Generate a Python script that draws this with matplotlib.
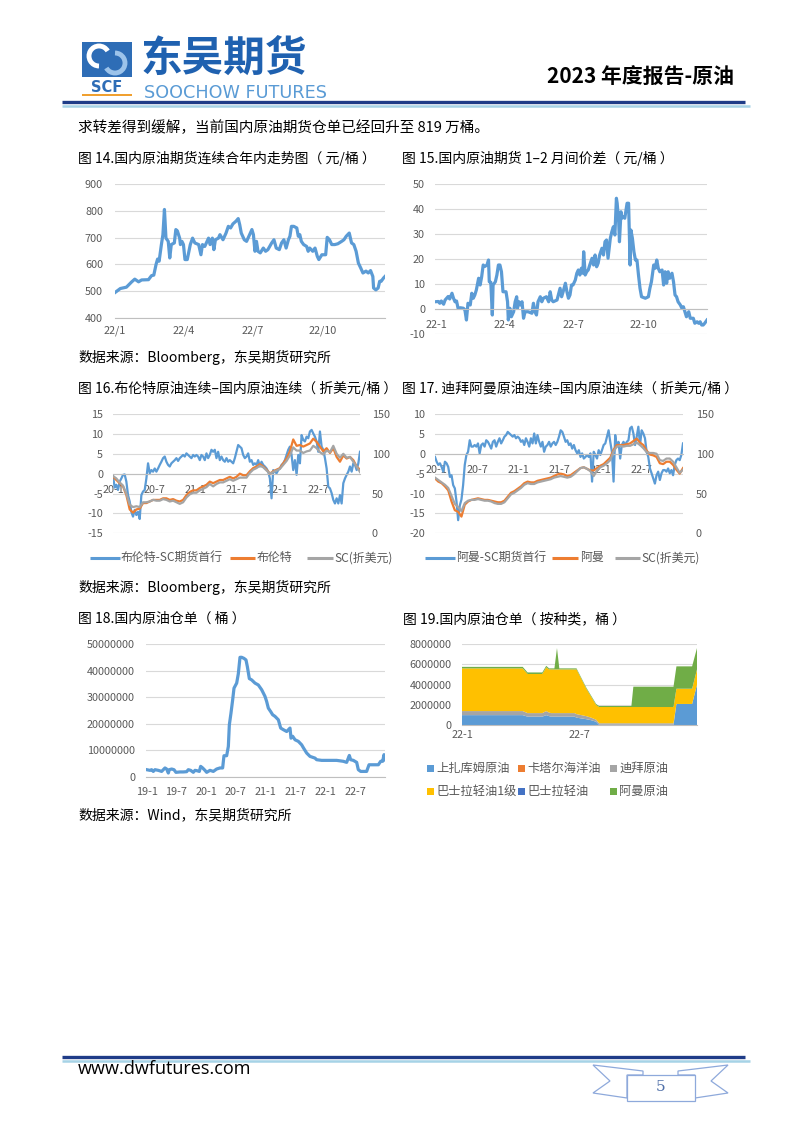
import numpy as np
import matplotlib
matplotlib.use('Agg')
import matplotlib.pyplot as plt
from matplotlib.patches import Rectangle, Polygon, Arc

plt.rcParams['font.family'] = ['Noto Sans CJK SC', 'DejaVu Sans']
plt.rcParams['axes.unicode_minus'] = False

# ---------------- data ----------------
# Fig 14: SC continuous price 2022 (day offset from 2022-01-01, CNY/bbl)
days14 = [0,7,15,22,26,31,35,44,48,51,54,56,58,61,63,65,67,70,72,74,78,80,82,85,86,88,90,92,95,99,
          102,105,110,113,115,118,123,125,128,130,132,136,138,142,146,149,152,155,159,162,164,166,170,173,
          177,180,182,184,186,188,191,195,198,201,206,209,212,216,219,222,225,228,230,232,235,239,241,243,
          245,248,252,254,256,260,263,266,268,272,275,277,279,282,285,289,293,298,301,304,308,311,314,317,
          320,323,326,330,333,336,339,340,343,346,348,350,353,355]
price14 = [495,510,515,535,545,535,542,543,558,560,600,620,612,674,711,805,698,686,624,674,680,730,725,698,
           674,686,674,618,618,674,698,680,674,636,674,667,698,674,698,655,692,698,711,692,717,742,736,751,
           761,771,748,717,692,686,711,730,711,649,686,649,643,661,649,655,680,692,661,655,680,692,661,692,
           705,742,742,736,705,711,686,674,667,649,661,649,661,630,618,636,636,636,701,692,674,674,677,686,
           692,705,717,680,674,649,605,587,568,575,568,577,555,512,505,512,537,537,549,555]
ticks14 = [0, 90, 181, 273]
labels14 = ['22/1', '22/4', '22/7', '22/10']

# Fig 15: 1-2 month spread (CNY/bbl)
days15 = [-1,3,5,7,10,12,14,16,18,21,23,25,27,29,32,36,38,40,42,45,47,49,51,53,56,58,60,62,64,67,
          69,70,72,74,75,78,80,82,84,86,88,89,92,94,95,97,99,102,104,106,107,109,111,113,115,117,121,126,128,130,
          132,134,137,139,141,145,148,150,152,154,159,163,165,167,170,172,174,176,178,180,183,185,187,189,191,193,
          194,196,198,200,202,205,207,209,211,213,215,218,220,222,224,226,229,231,233,235,237,238,240,241,243,244,
          246,248,251,253,255,256,258,260,262,264,266,268,270,275,279,281,283,286,288,290,292,294,297,299,301,303,
          305,307,310,312,314,316,318,321,323,325,327,329,332,334,338,340,343,345,347,349,351,353,356]
spread15 = [2.9,3,2.3,3.2,1.9,3.6,4.3,5,4,6.3,4.3,2.9,3.2,0.3,0.5,0.3,-0.4,-4.4,2.3,1.6,
            6.3,4.3,5.6,7.6,12.3,9.6,12.9,17.6,17,17.6,19.6,10.9,10.7,-2.4,9.6,10.9,13.6,17.6,17.6,14.9,
            6.9,6.9,6.9,2.9,-4.4,0.3,-3.1,-1.1,2.9,4.9,0.3,2.9,1.6,2.9,-3.7,-1.1,-1.1,-1.7,2.3,-1.1,
            -2.4,2.9,4.9,2.9,4.3,4.9,2.9,6.9,3.6,2.9,3.6,8.3,4.9,6.9,10.3,6.9,4.3,5.6,9.6,9.6,
            11.6,14.3,15.6,13.6,16.3,14.3,22.9,13.6,14.9,15.6,17.6,20.3,17.6,21.6,16.9,18.3,21.6,24.3,21.6,26.9,
            27.6,20.3,28.3,30.9,32.9,29.6,44.3,42.3,34.9,26.9,38.9,36.3,36.9,36.3,42.3,42.3,17.6,31.6,28.3,22.9,
            19.6,19.6,13.6,8.3,4.9,4.3,4.9,8.3,10.9,17.6,16.3,19.6,16.3,14.9,15.6,9.6,14.9,10.3,14.9,12.3,
            14.3,10.9,5.6,4.9,2.9,1.6,0.3,0.9,-1.1,-3.1,-1.1,-3.7,-3.7,-5.7,-5.1,-5.7,-5.1,-6.4,-6.4,-5.7,-4.4]
labels15 = ['22-1', '22-4', '22-7', '22-10']

# Fig 16: Brent - SC (months since 2020-01)
brent_sc = [-0.5,-3.5,-2.8,-4.1,-2.0,-1.2,-0.3,-0.2,-2.0,-5.4,-7.0,-9.6,-10.8,-9.1,-10.4,-9.6,-11.4,-5.4,-4.5,-4.1,
            -1.2,2.6,0.1,0.9,0.5,1.3,0.5,1.3,2.2,3.0,3.9,4.3,3.0,2.2,1.8,2.6,3.0,3.4,3.9,3.2,
            3.9,4.3,4.7,4.3,5.1,4.7,4.3,3.9,4.7,4.3,4.7,4.3,3.4,4.7,4.3,3.4,5.1,3.9,4.7,6.0,
            5.5,6.0,3.9,5.5,3.4,4.3,3.4,3.0,3.9,3.0,3.4,3.0,2.6,3.9,5.5,7.2,6.8,6.4,4.7,3.9,
            4.3,5.1,3.0,3.4,2.2,2.6,2.2,3.4,1.8,3.0,2.2,1.8,1.3,0.5,-1.2,-6.2,0.9,0.5,0.1,0.9,
            1.3,2.2,2.6,3.4,4.7,6.0,6.8,4.7,0.9,3.4,-0.3,4.7,2.6,9.7,8.5,8.1,9.3,8.9,10.6,11.0,
            10.1,9.3,8.1,5.5,10.6,6.8,6.0,3.9,1.3,-3.3,-3.7,-4.9,-6.6,-7.5,-6.2,-7.5,-5.4,-7.5,-2.4,-1.2,
            -0.3,0.5,1.8,0.5,2.6,2.2,0.9,2.6,5.5]
brent = [71,67,63,59,48,30,26,30,31,38,38,40,42,42,42,44,44,42,43,41,40,42,48,52,54,54,57,59,61,65,
         63,65,67,67,69,71,69,71,75,73,73,78,82,84,87,84,80,75,78,80,82,88,94,103,118,110,111,109,111,113,
         119,115,109,103,107,101,107,96,90,98,94,96,92,84,80]
sc16 = [72,69,64,60,50,36,33,34,33,39,39,40,42,41,41,43,42,40,41,39,37,39,45,49,51,51,54,56,58,62,
        59,62,64,64,66,68,66,68,70,70,70,76,80,82,85,83,79,75,77,79,81,86,91,98,108,104,104,101,103,104,
        110,107,102,99,104,102,110,100,95,100,95,96,90,84,77]
span16 = (-0.1, 36.0)
ticks16 = [0, 6, 12, 18, 24, 30]
labels16 = ['20-1', '20-7', '21-1', '21-7', '22-1', '22-7']

# Fig 17: Oman - SC
oman_sc = [-0.8,-2.0,-2.8,-2.4,-3.3,-4.5,-2.0,-2.4,-3.3,-5.8,-5.4,-7.9,-8.7,-12.0,-16.7,-13.0,-11.5,-7.9,-2.8,-0.3,
           0.5,3.4,1.8,1.8,2.2,1.8,2.6,0.1,2.2,2.6,1.8,3.4,3.0,2.2,1.3,3.0,3.4,1.8,3.0,3.9,
           2.6,3.4,4.3,4.7,5.5,5.1,4.7,4.3,4.7,3.9,4.3,3.9,3.0,3.4,2.2,3.9,3.0,1.8,3.9,2.6,
           5.1,2.6,4.7,3.0,1.8,3.0,0.5,1.8,2.2,3.0,1.8,2.6,3.0,2.2,3.0,4.3,5.9,5.5,4.3,3.0,
           3.4,2.2,2.6,1.3,2.2,0.9,0.1,0.9,-0.8,0.1,-1.2,-0.8,-0.3,-0.8,0.1,-7.0,0.5,-0.3,-1.2,0.9,
           -0.3,0.9,2.2,2.6,4.3,5.9,3.0,0.5,-7.0,4.7,1.8,3.0,-1.2,2.2,3.0,2.2,3.0,3.4,6.4,6.8,
           5.1,2.2,4.3,6.8,2.2,5.9,5.1,3.9,0.5,-0.8,-3.7,-4.9,-6.2,-7.5,-5.4,-4.5,-6.6,-4.9,-4.1,-4.1,
           -4.5,-3.7,-4.9,-4.1,-5.4,-2.8,-1.6,-1.2,-1.6,-0.3,2.6]
oman = [69,65,63,59,54,40,29,27,21,36,40,42,43,44,43,42,42,41,40,39,39,41,46,51,53,56,59,63,65,64,
        64,66,67,68,69,70,72,74,75,74,72,73,76,79,82,83,81,79,79,82,85,87,91,95,105,111,111,111,112,113,
        116,119,114,111,104,99,98,96,88,87,90,90,86,80,75,82]
sc17 = [70,67,64,61,57,47,37,33,28,38,41,42,42,43,42,41,41,40,38,37,37,39,44,49,51,54,57,61,63,62,
        62,64,65,66,67,68,70,71,72,71,70,71,74,78,82,83,81,78,72,79,83,85,88,92,103,109,110,109,110,110,
        112,114,111,107,102,101,101,100,92,91,94,94,90,83,76,80]
span17 = (-0.15, 36.14)

# Fig 18: warehouse receipts (months since 2019-01, million bbl)
months18 = [0,0.67,1.0,1.34,1.68,2.35,3.02,3.70,4.03,4.37,4.57,5.04,5.51,5.91,6.72,7.39,8.06,8.40,8.87,9.41,
            9.74,10.08,10.62,10.89,11.29,11.76,12.10,12.77,13.44,14.11,14.78,15.32,15.59,16.13,16.47,16.67,17.0,17.34,17.61,18.15,
            18.48,18.82,19.15,19.62,20.03,20.30,20.70,21.17,21.84,22.51,23.19,23.86,24.19,24.53,25.0,25.40,25.87,26.55,27.02,27.55,
            28.23,28.90,29.10,29.44,29.91,30.58,31.25,31.59,32.26,32.93,33.94,34.27,35.28,36.29,38.31,39.65,40.32,40.86,41.13,41.67,
            42.34,42.67,43.15,44.35,44.83,45.70,46.71,47.18,47.58,47.85,48.05]
stock18 = [2.75,2.5,2.75,2.1,2.75,2.5,2.1,3.4,3.0,1.5,2.75,3.0,2.75,1.75,1.9,1.9,2.0,2.75,2.5,1.75,
           2.5,2.4,2.1,4.0,3.4,2.5,1.75,2.5,2.1,3.0,3.4,3.4,8.0,8.0,11.5,19.6,24.0,29.0,33.4,35.3,
           38.8,45.0,45.0,44.6,44.0,41.5,37.0,36.5,35.3,34.6,32.8,30.3,28.4,25.9,24.6,23.4,22.8,21.5,18.4,17.8,
           17.1,18.4,14.6,15.3,14.0,13.4,12.1,11.0,9.0,7.75,7.1,6.5,6.25,6.25,6.25,5.9,5.5,8.1,6.5,6.25,
           5.5,2.75,2.1,2.1,4.6,4.6,4.6,5.9,5.9,8.4,6.5]
ticks18 = [0, 6, 12, 18, 24, 30, 36, 42]
labels18 = ['19-1', '19-7', '20-1', '20-7', '21-1', '21-7', '22-1', '22-7']

# Fig 19: receipts by grade (months since 2022-01, million bbl)
months19 = [0,3.1,3.35,4.1,4.3,4.45,4.55,4.72,4.85,4.97,5.75,5.85,6.35,6.6,6.85,7.0,8.65,8.75,10.8,10.95,11.75,12.0]
zakum = [1.0,1.0,0.85,0.85,1.0,0.9,0.85,0.85,0.85,0.85,0.85,0.75,0.6,0.5,0.35,0.05,0.05,0.05,0.05,2.1,2.1,4.0]
qatar = [0]*22
dubai = [0.4,0.4,0.35,0.35,0.4,0.35,0.35,0.35,0.35,0.35,0.35,0.35,0.3,0.25,0.2,0.15,0.15,0.15,0.15,0,0,0]
basrah1 = [4.2,4.2,3.85,3.85,4.3,4.25,4.3,4.3,4.3,4.3,4.3,4.4,2.7,2.05,1.45,1.6,1.6,1.6,1.6,1.5,1.5,1.5]
basrah = [0]*22
oman19 = [0.15,0.15,0.15,0.15,0.15,0.1,0.1,0.1,2.1,0.1,0.1,0.1,0.1,0.1,0.1,0.1,0.1,2.0,2.0,2.2,2.2,2.1]
names19 = ['上扎库姆原油', '卡塔尔海洋油', '迪拜原油', '巴士拉轻油1级', '巴士拉轻油', '阿曼原油']

# ---------------- styling ----------------
W, H = 802, 1133
fig = plt.figure(figsize=(W / 100, H / 100), dpi=100)
bg = fig.add_axes([0, 0, 1, 1])
bg.set_xlim(0, W); bg.set_ylim(H, 0); bg.axis('off')

BLUE = '#5B9BD5'; ORANGE = '#ED7D31'; GREY = '#A5A5A5'; GRID = '#D9D9D9'; TICK = '#595959'
YEL = '#FFC000'; DBLUE = '#4472C4'; GREEN = '#70AD47'
TS = 7.8


def add_ax(l, t, r, b):
    return fig.add_axes([l / W, 1 - b / H, (r - l) / W, (b - t) / H])


def style(ax, ypad, xpad, zero=False):
    for s in ax.spines.values():
        s.set_visible(False)
    sp = ax.spines['bottom']
    sp.set_visible(True); sp.set_color('#BFBFBF'); sp.set_linewidth(0.8)
    if zero:
        sp.set_position(('data', 0))
    ax.yaxis.grid(True, color=GRID, lw=0.8)
    ax.set_axisbelow(True)
    ax.tick_params(axis='y', length=0, pad=ypad * 0.72, labelsize=TS, labelcolor=TICK)
    ax.tick_params(axis='x', length=0, pad=xpad * 0.72, labelsize=TS, labelcolor=TICK)
    ax.patch.set_alpha(0)


def right_axis(ax, lim, ticks, pad):
    a2 = ax.twinx()
    for s in a2.spines.values():
        s.set_visible(False)
    a2.set_ylim(*lim); a2.set_yticks(ticks)
    a2.tick_params(axis='y', length=0, pad=pad * 0.72, labelsize=TS, labelcolor=TICK)
    a2.patch.set_alpha(0)
    return a2


# ---------------- page header ----------------
bg.add_patch(Rectangle((82, 42), 50, 35, color='#2E6DB6', lw=0))
bg.add_patch(Arc((99, 56), 20, 20, theta1=90, theta2=330, color='white', lw=3.5))
bg.add_patch(Arc((115, 63), 20, 20, theta1=270, theta2=150, color='#9CC3EA', lw=3.5))
bg.text(107, 87, 'SCF', ha='center', va='center', fontsize=10.5, fontweight='bold',
        color='#2E6DB6', family='DejaVu Sans')
bg.add_patch(Rectangle((82, 94), 50, 2, color='#F0A030', lw=0))
bg.text(141, 59, '东吴期货', ha='left', va='center', fontsize=30, fontweight='bold', color='#1F61B0')
bg.text(144, 97.5, 'SOOCHOW FUTURES', ha='left', va='baseline', fontsize=12.7, color='#5A9BD5',
        family='DejaVu Sans')
bg.text(734, 77, '2023 年度报告-原油', ha='right', va='center', fontsize=15, fontweight='bold', color='black')
bg.plot([62, 745], [102, 102], color='#1F3C88', lw=2.4, solid_capstyle='butt')
bg.plot([62, 750], [106, 106], color='#A6D3E6', lw=1.8, solid_capstyle='butt')
bg.text(78, 128, '求转差得到缓解，当前国内原油期货仓单已经回升至 819 万桶。', ha='left', va='center',
        fontsize=10.5, color='black')

TF = 10
bg.text(78, 158, '图 14.国内原油期货连续合年内走势图（ 元/桶 ）', fontsize=TF, va='center')
bg.text(402, 158, '图 15.国内原油期货 1–2 月间价差（ 元/桶 ）', fontsize=TF, va='center')
bg.text(78, 388, '图 16.布伦特原油连续–国内原油连续（ 折美元/桶 ）', fontsize=TF, va='center')
bg.text(402, 388, '图 17. 迪拜阿曼原油连续–国内原油连续（ 折美元/桶 ）', fontsize=TF, va='center')
bg.text(78, 619, '图 18.国内原油仓单（ 桶 ）', fontsize=TF, va='center')
bg.text(403, 619, '图 19.国内原油仓单（ 按种类，桶 ）', fontsize=TF, va='center')
bg.text(78, 357, '数据来源：Bloomberg，东吴期货研究所', fontsize=TF, va='center')
bg.text(78, 587, '数据来源：Bloomberg，东吴期货研究所', fontsize=TF, va='center')
bg.text(78, 815, '数据来源：Wind，东吴期货研究所', fontsize=TF, va='center')

# ---------------- Fig 14 ----------------
ax = add_ax(115, 184, 385, 318)
style(ax, 12, 7)
ax.plot(days14, price14, color=BLUE, lw=2.3)
ax.set_ylim(400, 900); ax.set_yticks(range(400, 901, 100))
ax.set_xlim(0, 355); ax.set_xticks(ticks14); ax.set_xticklabels(labels14)

# ---------------- Fig 15 ----------------
ax = add_ax(435, 184, 707, 334)
style(ax, 10, 11, zero=True)
ax.plot(days15, spread15, color=BLUE, lw=2.3)
ax.set_ylim(-10, 50); ax.set_yticks(range(-10, 51, 10))
ax.set_xlim(-1.3, 356); ax.set_xticks(ticks14); ax.set_xticklabels(labels15)

# ---------------- Fig 16 ----------------
ax = add_ax(113, 414, 360, 533.3)
style(ax, 10, 11, zero=True)
ax.plot(np.linspace(span16[0], span16[1], len(brent_sc)), brent_sc, color=BLUE, lw=1.6)
ax.set_ylim(-15, 15); ax.set_yticks(range(-15, 16, 5))
ax.set_xlim(-0.1, 36.0); ax.set_xticks(ticks16); ax.set_xticklabels(labels16)
a2 = right_axis(ax, (0, 150), [0, 50, 100, 150], 11.7)
x16 = np.linspace(span16[0], span16[1], len(brent))
a2.plot(x16, brent, color=ORANGE, lw=1.6)
a2.plot(x16, sc16, color=GREY, lw=1.6)
a2.set_xlim(-0.1, 36.0)

# ---------------- Fig 17 ----------------
ax = add_ax(435, 414, 683, 533.3)
style(ax, 10, 11, zero=True)
ax.plot(np.linspace(span17[0], span17[1], len(oman_sc)), oman_sc, color=BLUE, lw=1.6)
ax.set_ylim(-20, 10); ax.set_yticks(range(-20, 11, 5))
ax.set_xlim(-0.15, 36.14); ax.set_xticks(ticks16); ax.set_xticklabels(labels16)
a2 = right_axis(ax, (0, 150), [0, 50, 100, 150], 13)
x17 = np.linspace(span17[0], span17[1], len(oman))
a2.plot(x17, oman, color=ORANGE, lw=1.6)
a2.plot(x17, sc17, color=GREY, lw=1.6)
a2.set_xlim(-0.15, 36.14)

# legends 16 / 17
LY = 557.7
for (x0, x1, c, tx, s) in [(90, 120, BLUE, 121, '布伦特-SC期货首行'), (230, 255, ORANGE, 257, '布伦特'),
                           (307, 333, GREY, 334, 'SC(折美元)'),
                           (425, 455, BLUE, 456, '阿曼-SC期货首行'), (552, 578, ORANGE, 580, '阿曼'),
                           (615, 640, GREY, 641, 'SC(折美元)')]:
    bg.plot([x0, x1], [LY, LY], color=c, lw=2.2, solid_capstyle='butt')
    bg.text(tx, LY, s, ha='left', va='center', fontsize=8.6, color=TICK)

# ---------------- Fig 18 ----------------
ax = add_ax(146, 644, 385, 777)
style(ax, 11, 10)
ax.plot(months18, np.array(stock18) * 1e6, color=BLUE, lw=2.3)
ax.set_ylim(0, 5e7); ax.set_yticks(np.arange(0, 5.01e7, 1e7))
ax.set_yticklabels(['0', '10000000', '20000000', '30000000', '40000000', '50000000'])
ax.set_xlim(-0.13, 48.05); ax.set_xticks(ticks18); ax.set_xticklabels(labels18)

# ---------------- Fig 19 ----------------
ax = add_ax(462, 644, 697, 725.3)
style(ax, 10, 5)
cols19 = [BLUE, ORANGE, GREY, YEL, DBLUE, GREEN]
ax.stackplot(months19, np.array(zakum) * 1e6, np.array(qatar) * 1e6, np.array(dubai) * 1e6,
             np.array(basrah1) * 1e6, np.array(basrah) * 1e6, np.array(oman19) * 1e6,
             colors=cols19, lw=0)
ax.set_ylim(0, 8e6); ax.set_yticks(np.arange(0, 8.01e6, 2e6))
ax.set_yticklabels(['0', '2000000', '4000000', '6000000', '8000000'])
ax.set_xlim(0, 12); ax.set_xticks([0, 6]); ax.set_xticklabels(['22-1', '22-7'])

for i, (n, c) in enumerate(zip(names19, cols19)):
    mx = [427, 518, 610][i % 3]
    my = [768, 791][i // 3]
    bg.add_patch(Rectangle((mx, my - 3.5), 7, 7, color=c, lw=0))
    bg.text(mx + 9, my, n, ha='left', va='center', fontsize=8.8, color=TICK)

# ---------------- footer ----------------
bg.plot([62, 745], [1057, 1057], color='#1F3C88', lw=2.4, solid_capstyle='butt')
bg.plot([62, 750], [1061, 1061], color='#A6D3E6', lw=1.8, solid_capstyle='butt')
bg.text(78, 1069, 'www.dwfutures.com', ha='left', va='center', fontsize=13, color='black',
        family='Open Sans')
BC = '#8EA9DB'
bg.add_patch(Polygon([(593, 1065), (643, 1071), (643, 1075), (627, 1075), (627, 1098), (593, 1093),
                      (610, 1081)], closed=True, fill=False, ec=BC, lw=0.9))
bg.add_patch(Polygon([(728, 1065), (678, 1071), (678, 1075), (695, 1075), (695, 1098), (728, 1093),
                      (711, 1081)], closed=True, fill=False, ec=BC, lw=0.9))
bg.add_patch(Polygon([(627, 1075), (695, 1075), (695, 1101), (627, 1101)], closed=True,
                     fc='white', ec=BC, lw=0.9))
bg.text(661, 1087, '5', ha='center', va='center', fontsize=11, color='#4F6FA8', family='DejaVu Serif')

fig.savefig('out.png', dpi=100)
